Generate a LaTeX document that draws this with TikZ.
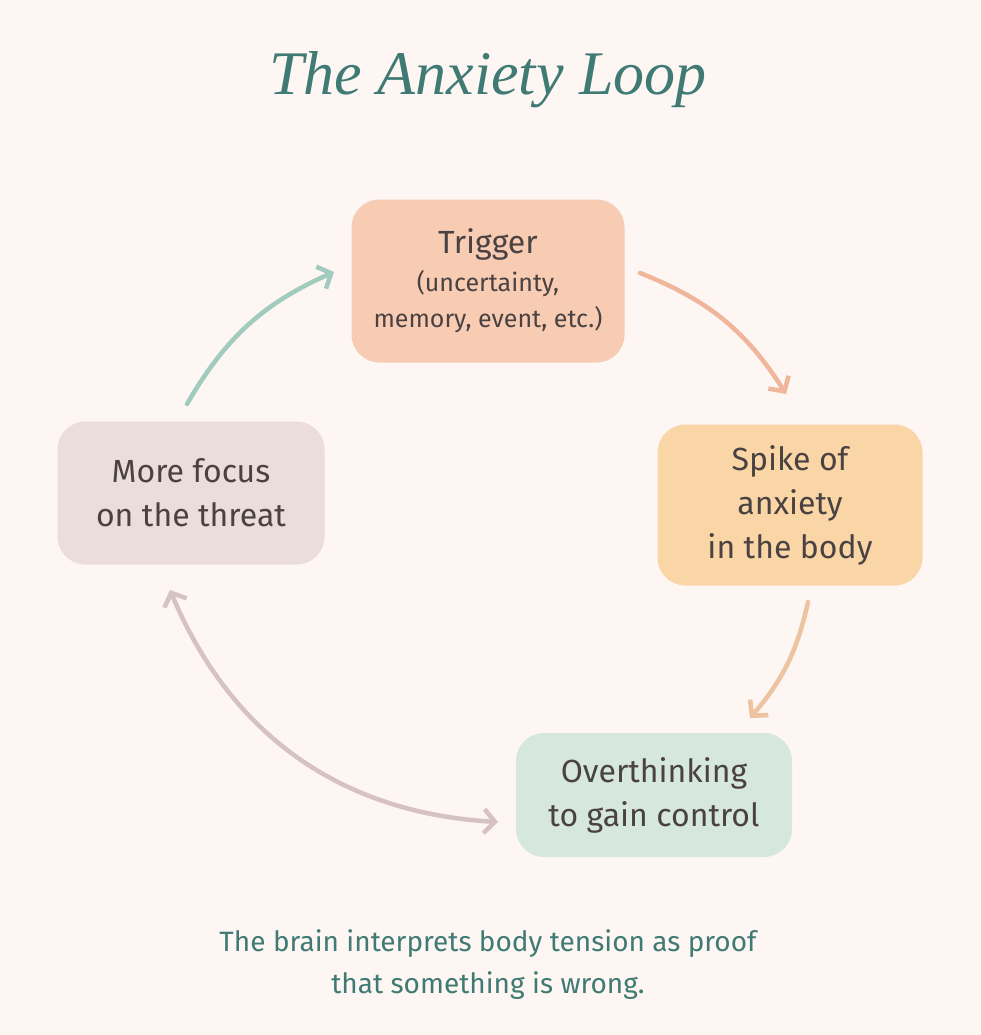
\documentclass[tikz,border=0pt]{standalone}
\usepackage{fontspec}
\setmainfont{Fira Sans}
\newfontfamily\titlefont{Liberation Serif}
\usetikzlibrary{arrows.meta}
\definecolor{bg}{HTML}{FDF6F2}
\definecolor{teal}{HTML}{3F7B74}
\definecolor{txt}{HTML}{4A4242}
\definecolor{c1}{HTML}{F8CBB3}
\definecolor{c2}{HTML}{FAD6A6}
\definecolor{c3}{HTML}{D6E7DD}
\definecolor{c4}{HTML}{EADDDA}
\tikzset{
 box/.style={rounded corners=28pt,inner sep=0pt,align=center,text=txt,font=\fontsize{32}{44}\selectfont},
 arr/.style={line width=4.5pt,line cap=round,-{Straight Barb[length=11pt,width=24pt,line width=4.5pt]}},
}
\begin{document}
\begin{tikzpicture}[x=1pt,y=-1pt]
\fill[bg] (0,0) rectangle (980,1035);
\useasboundingbox (0,0) rectangle (980,1035);
\node[text=teal,font=\titlefont\itshape\fontsize{62}{66}\selectfont] (title) at (488,80) {The Anxiety Loop};
\node[box,fill=c1,minimum width=273pt,minimum height=163pt] (trig) at (488,281) {Trigger\\[-6pt]{\fontsize{25}{36}\selectfont(uncertainty,}\\[-8pt]{\fontsize{25}{36}\selectfont memory, event, etc.)}};
\node[box,fill=c2,minimum width=265pt,minimum height=161pt] (spike) at (790,505) {Spike of\\anxiety\\in the body};
\node[box,fill=c3,minimum width=276pt,minimum height=124pt] (over) at (654,795) {Overthinking\\to gain control};
\node[box,fill=c4,minimum width=267pt,minimum height=143pt] (focus) at (191,493) {More focus\\on the threat};
\coordinate (a1s) at (187,404); \coordinate (a1e) at (334,272);
\coordinate (a2s) at (640,273); \coordinate (a2e) at (786,394);
\coordinate (a3s) at (808,602); \coordinate (a3e) at (750,718);
\coordinate (a4s) at (498,822); \coordinate (a4e) at (170,590);
\draw[arr,color={rgb,255:red,160;green,203;blue,190}] (a1s) to[bend left=18] (a1e);
\draw[arr,color={rgb,255:red,240;green,182;blue,156}] (a2s) to[bend left=18] (a2e);
\draw[arr,color={rgb,255:red,236;green,196;blue,162}] (a3s) to[bend left=14] (a3e);
\draw[arr,{Straight Barb[length=11pt,width=24pt,line width=4.5pt]}-{Straight Barb[length=11pt,width=24pt,line width=4.5pt]},color={rgb,255:red,214;green,194;blue,192}] (a4e) to[bend right=32] (a4s);
\node[text=teal,align=center,font=\fontsize{28}{42}\selectfont] (cap) at (488,965) {The brain interprets body tension as proof\\that something is wrong.};
\end{tikzpicture}
\end{document}
